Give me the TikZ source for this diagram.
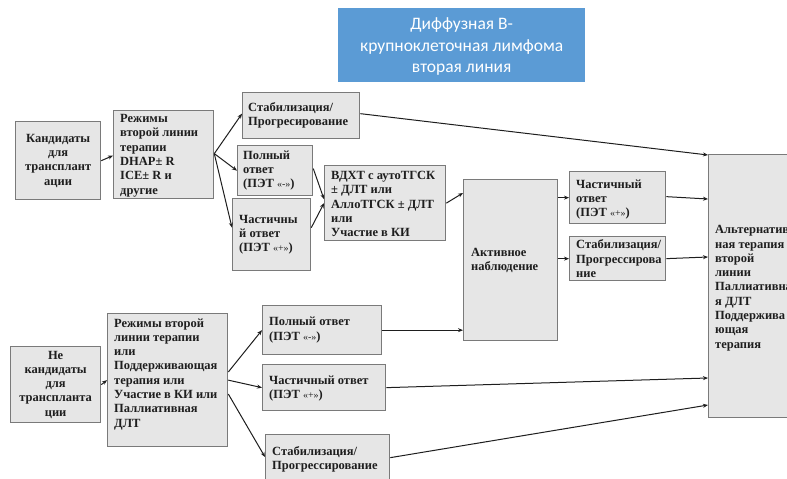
\documentclass[tikz,border=0pt]{standalone}
\usepackage{fontspec}
\setmainfont{Liberation Serif}
\newfontfamily\titlefont{Carlito}
\usetikzlibrary{calc,arrows.meta}
\definecolor{boxfill}{HTML}{E6E6E6}
\definecolor{boxline}{HTML}{7A7A7A}
\definecolor{titleblue}{HTML}{5B9BD5}
\definecolor{ink}{HTML}{1E1E1E}
\newcommand\petq[1]{{\fontsize{10}{12}\selectfont\mdseries #1}}
\begin{document}
\begin{tikzpicture}[x=1pt,y=-1pt,
 box/.style={draw=boxline, fill=boxfill, line width=1.3pt, anchor=north west, inner sep=0pt},
 txt/.style={font=\fontsize{12.5}{14.3}\selectfont\bfseries, text=ink, align=left, inner sep=0pt, anchor=west},
 ctxt/.style={txt, align=center, anchor=center},
 conn/.style={draw=ink, line width=1pt, -{Stealth[length=5pt,width=4pt]}}]
\useasboundingbox (0,0) rectangle (787,479);
\clip (0,0) rectangle (787,479);

% title
\node[fill=titleblue, minimum width=247, minimum height=74, anchor=north west, inner sep=0pt] (title) at (338,8) {};
\node[font=\titlefont\fontsize{17.5}{21.7}\selectfont, text=white, align=center, inner sep=0pt] (titleT) at ($(title.center)+(0,1.5)$) {Диффузная В-\\крупноклеточная лимфома\\вторая линия};

% upper branch
\node[box, minimum width=85, minimum height=78] (kand) at (15,121) {};
\node[ctxt] (kandT) at (kand.center) {Кандидаты\\для\\трансплант\\ации};

\node[box, minimum width=100, minimum height=88] (rej1) at (113,110) {};
\node[txt] (rej1T) at ($(rej1.west)+(7,1)$) {Режимы\\второй линии\\терапии\\DHAP± R\\ICE± R и\\другие};

\node[box, minimum width=117, minimum height=46] (stab1) at (242,92) {};
\node[txt] (stab1T) at ($(stab1.west)+(6,0)$) {Стабилизация/\\Прогресирование};

\node[box, minimum width=75, minimum height=50] (full1) at (237,145) {};
\node[txt] (full1T) at ($(full1.west)+(6,0)$) {Полный\\ответ\\(ПЭТ \petq{«-»})};

\node[box, minimum width=78, minimum height=72] (part1) at (232,198) {};
\node[txt] (part1T) at ($(part1.west)+(7,0)$) {Частичны\\й ответ\\(ПЭТ \petq{«+»})};

\node[box, minimum width=121, minimum height=75] (vdht) at (324,165) {};
\node[txt] (vdhtT) at ($(vdht.west)+(7,1)$) {ВДХТ с аутоТГСК\\± ДЛТ или\\АллоТГСК ± ДЛТ\\или\\Участие в КИ};

\node[box, minimum width=94, minimum height=161] (activ) at (463,179) {};
\node[txt] (activT) at ($(activ.west)+(8,0)$) {Активное\\наблюдение};

\node[box, minimum width=96, minimum height=52] (part2) at (569,171) {};
\node[txt] (part2T) at ($(part2.west)+(7,2)$) {Частичный\\ответ\\(ПЭТ \petq{«+»})};

\node[box, minimum width=96, minimum height=44] (stab2) at (569,236) {};
\node[txt] (stab2T) at ($(stab2.west)+(7,0)$) {Стабилизация/\\Прогрессирова\\ние};

\node[box, minimum width=100, minimum height=263] (alt) at (708,154) {};
\node[txt] (altT) at ($(alt.west)+(7,2)$) {Альтернатив\\ная терапия\\второй\\линии\\Паллиативна\\я ДЛТ\\Поддержива\\ющая\\терапия};

% lower branch
\node[box, minimum width=90, minimum height=76] (nkand) at (10,346) {};
\node[ctxt] (nkandT) at (nkand.center) {Не\\кандидаты\\для\\транспланта\\ции};

\node[box, minimum width=120, minimum height=133] (rej2) at (107,313) {};
\node[txt] (rej2T) at ($(rej2.west)+(7,-6)$) {Режимы второй\\линии терапии\\или\\Поддерживающая\\терапия или\\Участие в КИ или\\Паллиативная\\ДЛТ};

\node[box, minimum width=119, minimum height=49] (full3) at (262,305) {};
\node[txt] (full3T) at ($(full3.west)+(7,0)$) {Полный ответ\\(ПЭТ \petq{«-»})};

\node[box, minimum width=123, minimum height=46] (part3) at (262,364) {};
\node[txt] (part3T) at ($(part3.west)+(7,1)$) {Частичный ответ\\(ПЭТ \petq{«+»})};

\node[box, minimum width=124, minimum height=50] (stab3) at (265,434) {};
\node[txt] (stab3T) at ($(stab3.west)+(7,0)$) {Стабилизация/\\Прогрессирование};

% connectors upper
\draw[conn] (kand.east) -- ($(rej1.west)+(0,1)$);
\draw[conn] ($(rej1.east)+(0,-1)$) -- ($(stab1.west)+(0,-2)$);
\draw[conn] ($(rej1.east)+(0,-1)$) -- (full1.west);
\draw[conn] ($(rej1.east)+(0,-1)$) -- ($(part1.west)+(0,-7)$);
\draw[conn] ($(full1.east)+(0,-2)$) -- ($(vdht.west)+(0,-4)$);
\draw[conn] ($(part1.east)+(0,-7)$) -- (vdht.west);
\draw[conn] (vdht.east) -- ($(activ.north west)+(0,14)$);
\draw[conn] ($(stab1.east)+(0,-2)$) -- ($(alt.north west)+(0,1)$);
\draw[conn] (activ.east |- part2.west) -- (part2.west);
\draw[conn] (activ.east |- stab2.west) -- (stab2.west);
\draw[conn] ($(part2.east)+(0,-1)$) -- ($(alt.north west)+(0,45)$);
\draw[conn] (stab2.east) -- ($(alt.north west)+(0,103)$);

% connectors lower
\draw[conn] (nkand.east) -- (rej2.west);
\draw[conn] ($(rej2.north east)+(0,59)$) -- (full3.west);
\draw[conn] (rej2.east) -- (part3.west);
\draw[conn] ($(rej2.north east)+(0,81)$) -- ($(stab3.north west)+(0,23)$);
\draw[conn] (full3.east) -- (activ.west |- full3.east);
\draw[conn] (part3.east) -- ($(alt.north west)+(0,224)$);
\draw[conn] ($(stab3.east)+(0,-2)$) -- ($(alt.north west)+(0,251)$);
\end{tikzpicture}
\end{document}
